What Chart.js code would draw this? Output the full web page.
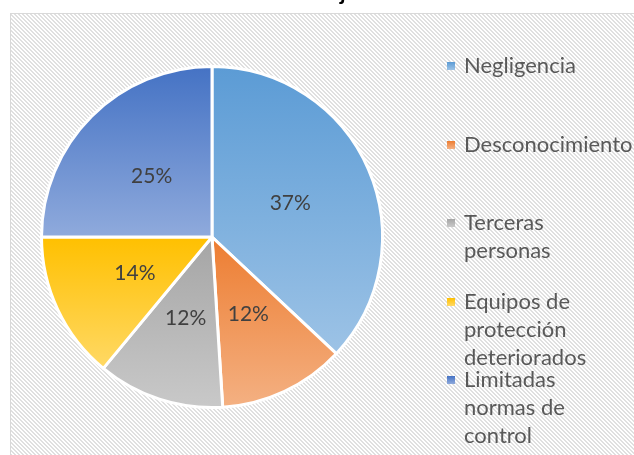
<!DOCTYPE html>
<html>
<head>
<meta charset="utf-8">
<script src="https://cdn.jsdelivr.net/npm/chart.js@4.4.0/dist/chart.umd.min.js"></script>
<style>
  html, body { margin: 0; padding: 0; background: #fff; }
  #wrap { position: relative; width: 634px; height: 455px; overflow: hidden; }
  #chart { position: absolute; left: 0; top: 0; }
  #legend { position: absolute; left: 446px; top: 0; font-family: Lato, "Open Sans", sans-serif; font-size: 22px; color: #595959; }
  .item { position: absolute; left: 0; line-height: 28px; padding-left: 18px; white-space: nowrap; }
  .box { position: absolute; left: 1px; top: 11px; width: 8px; height: 8px; }
</style>
</head>
<body>
<div id="wrap">
  <canvas id="chart" width="634" height="455"></canvas>
  <div id="legend"></div>
</div>
<script>
// data
const categories = ['Negligencia', 'Desconocimiento', 'Terceras personas', 'Equipos de protección deteriorados', 'Limitadas normas de control'];
const legendLines = [['Negligencia'], ['Desconocimiento'], ['Terceras', 'personas'], ['Equipos de', 'protección', 'deteriorados'], ['Limitadas', 'normas de', 'control']];
const percentages = [37, 12, 12, 14, 25];
const topColors = ['#5B9BD5', '#ED7D31', '#A5A5A5', '#FFC000', '#4472C4'];
const bottomColors = ['#9DC3E6', '#F4B183', '#C9C9C9', '#FFD966', '#8FAADC'];
const titleText = 'Causas de accidentes de trabajo';

const total = percentages.reduce((a, b) => a + b, 0);

// vertical gradient spanning each slice's own height
function sliceGradient(ctx) {
    const i = ctx.dataIndex;
    const chart = ctx.chart;
    const area = chart.chartArea;
    if (!area || i === undefined) return topColors[i] || topColors[0];
    const cx = (area.left + area.right) / 2;
    const cy = (area.top + area.bottom) / 2;
    const r = Math.min(area.width, area.height) / 2;
    let start = -Math.PI / 2;
    for (let k = 0; k < i; k++) start += percentages[k] / total * 2 * Math.PI;
    const end = start + percentages[i] / total * 2 * Math.PI;
    const ys = [cy, cy + r * Math.sin(start), cy + r * Math.sin(end)];
    [-Math.PI / 2, Math.PI / 2, 3 * Math.PI / 2].forEach(a => {
        if (a >= start && a <= end) ys.push(cy + r * Math.sin(a));
    });
    const g = chart.ctx.createLinearGradient(0, Math.min(...ys), 0, Math.max(...ys));
    g.addColorStop(0, topColors[i]);
    g.addColorStop(1, bottomColors[i]);
    return g;
}

// hatched plot background + clipped title
const backgroundPlugin = {
    id: 'hatch',
    beforeDraw(chart) {
        const c = chart.ctx;
        const tile = document.createElement('canvas');
        tile.width = 4;
        tile.height = 4;
        const t = tile.getContext('2d');
        t.fillStyle = '#ffffff';
        t.fillRect(0, 0, 4, 4);
        t.fillStyle = '#e0e0e0';
        for (let y = 0; y < 4; y++) {
            for (let x = 0; x < 4; x++) {
                if ((((x - y) % 4) + 4) % 4 < 2) t.fillRect(x, y, 1, 1);
            }
        }
        c.save();
        c.fillStyle = c.createPattern(tile, 'repeat');
        c.fillRect(10, 13, chart.width, chart.height);
        c.strokeStyle = '#d9d9d9';
        c.lineWidth = 1;
        c.strokeRect(10.5, 13.5, chart.width + 10, chart.height + 10);

        // only the descender of the title shows above the plot box
        c.font = 'bold 22px Lato';
        c.fillStyle = '#000000';
        c.textBaseline = 'alphabetic';
        const prefix = titleText.slice(0, titleText.indexOf('j'));
        c.fillText(titleText, 340 - c.measureText(prefix).width, -0.5);
        c.restore();
    }
};

const labelPlugin = {
    id: 'pctLabels',
    afterDatasetsDraw(chart) {
        const c = chart.ctx;
        const meta = chart.getDatasetMeta(0);
        c.save();
        c.font = '21px Lato';
        c.fillStyle = '#404040';
        c.textAlign = 'center';
        c.textBaseline = 'middle';
        meta.data.forEach((arc, i) => {
            const p = arc.tooltipPosition();
            c.fillText(Math.round(percentages[i] / total * 100) + '%', p.x, p.y);
        });
        c.restore();
    }
};

new Chart(document.getElementById('chart'), {
    type: 'pie',
    data: {
        labels: categories,
        datasets: [{
            data: percentages,
            backgroundColor: sliceGradient,
            borderColor: '#ffffff',
            borderWidth: 3
        }]
    },
    options: {
        responsive: false,
        animation: false,
        devicePixelRatio: 1,
        layout: { padding: { left: 40, right: 250, top: 65, bottom: 46 } },
        plugins: {
            legend: { display: false },
            tooltip: { enabled: false }
        }
    },
    plugins: [backgroundPlugin, labelPlugin]
});

// legend with wrapped names, as in the original
const legend = document.getElementById('legend');
legendLines.forEach((lines, i) => {
    const item = document.createElement('div');
    item.className = 'item';
    item.style.top = (51 + i * 78.5) + 'px';
    item.innerHTML = lines.join('<br>');
    const box = document.createElement('div');
    box.className = 'box';
    box.style.background = 'linear-gradient(' + topColors[i] + ', ' + bottomColors[i] + ')';
    item.appendChild(box);
    legend.appendChild(item);
});
</script>
</body>
</html>
